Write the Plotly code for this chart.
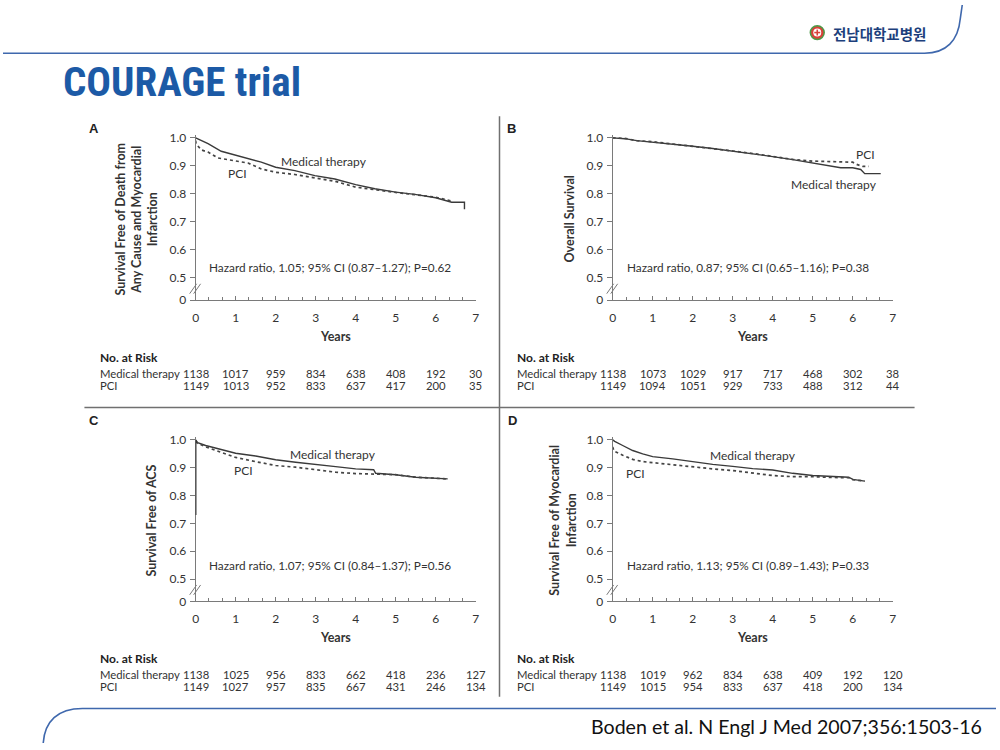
import plotly.graph_objects as go

W, H = 1000, 750


def px(x):
    return x / W


def py(y):
    return 1 - y / H


# ---------------- data ----------------
years = [0, 1, 2, 3, 4, 5, 6, 7]
Y_BREAK = 0.42
y_tickvals = [Y_BREAK, 0.5, 0.6, 0.7, 0.8, 0.9, 1.0]
y_ticktext = ["0", "0.5", "0.6", "0.7", "0.8", "0.9", "1.0"]

# Panel A: death from any cause and MI
a_mt_t = [0, 0.1, 0.31, 0.64, 0.83, 1.0, 1.31, 1.64, 2.0, 2.48, 2.98, 3.48, 4.0, 4.48, 5.0, 5.48, 6.0, 6.4, 6.72, 6.72]
a_mt_s = [1.0, 0.994, 0.979, 0.952, 0.945, 0.936, 0.927, 0.913, 0.895, 0.883, 0.865, 0.853, 0.833, 0.818, 0.806, 0.798, 0.786, 0.770, 0.770, 0.745]
a_pci_t = [0, 0.01, 0.14, 0.31, 0.56, 1.0, 1.31, 1.64, 2.0, 2.48, 2.98, 3.48, 4.0, 4.48, 5.0, 5.48, 6.0, 6.4]
a_pci_s = [0.99, 0.979, 0.957, 0.949, 0.928, 0.919, 0.910, 0.889, 0.877, 0.869, 0.856, 0.845, 0.824, 0.814, 0.805, 0.797, 0.788, 0.774]

# Panel B: overall survival
b_mt_t = [0, 0.3, 0.6, 1, 1.5, 2, 2.5, 3, 3.5, 4, 4.5, 5, 5.5, 5.7, 6, 6.2, 6.3, 6.7]
b_mt_s = [1.0, 0.997, 0.990, 0.985, 0.978, 0.970, 0.962, 0.953, 0.943, 0.933, 0.922, 0.910, 0.900, 0.893, 0.893, 0.887, 0.872, 0.872]
b_pci_t = [0, 0.3, 0.6, 1, 1.5, 2, 2.5, 3, 3.5, 4, 4.5, 5, 5.5, 6, 6.1, 6.25, 6.4]
b_pci_s = [1.0, 0.998, 0.990, 0.986, 0.978, 0.970, 0.963, 0.953, 0.944, 0.934, 0.923, 0.917, 0.915, 0.913, 0.905, 0.898, 0.898]

# Panel C: survival free of ACS
c_mt_t = [0, 0.05, 0.25, 0.5, 0.75, 1, 1.5, 2, 2.5, 3, 3.5, 4, 4.45, 4.5, 5, 5.5, 6, 6.3]
c_mt_s = [1.0, 0.990, 0.980, 0.970, 0.960, 0.952, 0.942, 0.929, 0.920, 0.911, 0.904, 0.896, 0.893, 0.880, 0.875, 0.866, 0.862, 0.860]
c_pci_t = [0, 0.05, 0.25, 0.5, 0.75, 1, 1.5, 2, 2.5, 3, 3.5, 4, 4.5, 5, 5.5, 6, 6.3]
c_pci_s = [0.995, 0.988, 0.975, 0.962, 0.948, 0.937, 0.922, 0.908, 0.902, 0.892, 0.884, 0.879, 0.877, 0.875, 0.866, 0.862, 0.860]

# Panel D: survival free of MI
d_mt_t = [0, 0.05, 0.25, 0.5, 0.75, 1, 1.5, 2, 2.5, 3, 3.5, 4, 4.5, 5, 5.5, 5.9, 6, 6.3]
d_mt_s = [1.0, 0.995, 0.980, 0.962, 0.950, 0.940, 0.932, 0.922, 0.912, 0.905, 0.897, 0.892, 0.880, 0.872, 0.868, 0.866, 0.858, 0.852]
d_pci_t = [0, 0.03, 0.25, 0.5, 0.75, 1, 1.5, 2, 2.5, 3, 3.5, 4, 4.5, 5, 5.5, 5.9, 6, 6.3]
d_pci_s = [0.975, 0.960, 0.945, 0.930, 0.922, 0.918, 0.910, 0.902, 0.896, 0.890, 0.882, 0.872, 0.868, 0.868, 0.865, 0.864, 0.857, 0.852]

# Numbers at risk
a_risk_mt = [1138, 1017, 959, 834, 638, 408, 192, 30]
a_risk_pci = [1149, 1013, 952, 833, 637, 417, 200, 35]
b_risk_mt = [1138, 1073, 1029, 917, 717, 468, 302, 38]
b_risk_pci = [1149, 1094, 1051, 929, 733, 488, 312, 44]
c_risk_mt = [1138, 1025, 956, 833, 662, 418, 236, 127]
c_risk_pci = [1149, 1027, 957, 835, 667, 431, 246, 134]
d_risk_mt = [1138, 1019, 962, 834, 638, 409, 192, 120]
d_risk_pci = [1149, 1015, 954, 833, 637, 418, 200, 134]

hazard_texts = [
    "Hazard ratio, 1.05; 95% CI (0.87\u20131.27); P=0.62",
    "Hazard ratio, 0.87; 95% CI (0.65\u20131.16); P=0.38",
    "Hazard ratio, 1.07; 95% CI (0.84\u20131.37); P=0.56",
    "Hazard ratio, 1.13; 95% CI (0.89\u20131.43); P=0.33",
]
y_titles = [
    "Survival Free of Death from<br>Any Cause and Myocardial<br>Infarction",
    "Overall Survival",
    "Survival Free of ACS",
    "Survival Free of Myocardial<br>Infarction",
]
letters = ["A", "B", "C", "D"]

# ---------------- layout geometry ----------------
FONT = "Lato, Noto Sans, sans-serif"
TXT = "#333333"
AX = "#7a7a7a"

panels = [
    dict(L=194, R=476, B=300, T=135, ax="", mt=(a_mt_t, a_mt_s), pci=(a_pci_t, a_pci_s),
         risk=(a_risk_mt, a_risk_pci), letter_xy=(92, 126), ytitle_xy=(134, 218),
         mt_lab=(3.2, 0.915), pci_lab=(1.05, 0.872), hr_x=0.28, hr_y=0.538, tbl_left=96),
    dict(L=614, R=896, B=300, T=135, ax="2", mt=(b_mt_t, b_mt_s), pci=(b_pci_t, b_pci_s),
         risk=(b_risk_mt, b_risk_pci), letter_xy=(512, 126), ytitle_xy=(571, 218),
         mt_lab=(5.53, 0.835), pci_lab=(6.33, 0.94), hr_x=0.3, hr_y=0.538, tbl_left=516),
    dict(L=194, R=476, B=606, T=442, ax="3", mt=(c_mt_t, c_mt_s), pci=(c_pci_t, c_pci_s),
         risk=(c_risk_mt, c_risk_pci), letter_xy=(92, 422), ytitle_xy=(150, 524),
         mt_lab=(3.43, 0.947), pci_lab=(1.19, 0.89), hr_x=0.28, hr_y=0.548, tbl_left=96),
    dict(L=614, R=896, B=606, T=442, ax="4", mt=(d_mt_t, d_mt_s), pci=(d_pci_t, d_pci_s),
         risk=(d_risk_mt, d_risk_pci), letter_xy=(513, 422), ytitle_xy=(564, 524),
         mt_lab=(3.5, 0.944), pci_lab=(0.57, 0.88), hr_x=0.3, hr_y=0.548, tbl_left=516),
]

fig = go.Figure()
annotations = []
shapes = []
layout = {}

Y_TOP = 1.01
for i, p in enumerate(panels):
    unit = (p["B"] - p["T"]) / (1.0 - Y_BREAK)
    top_px = p["T"] - (Y_TOP - 1.0) * unit
    xa = "xaxis" + p["ax"]
    ya = "yaxis" + p["ax"]
    xr = "x" + p["ax"]
    yr = "y" + p["ax"]
    layout[xa] = dict(
        domain=[px(p["L"]), px(p["R"])], range=[0, 7], anchor=yr,
        tickmode="array", tickvals=years, ticktext=[str(v) for v in years],
        ticks="inside", ticklen=4, tickcolor=AX, tickwidth=1,
        minor=dict(ticks="inside", tickmode="linear", tick0=0, dtick=1 / 3, ticklen=3,
                   tickcolor=AX, showgrid=False),
        showline=True, linecolor=AX, linewidth=1, showgrid=False, zeroline=False,
        tickfont=dict(family=FONT, size=12, color=TXT), ticklabelstandoff=6,
        fixedrange=True,
    )
    layout[ya] = dict(
        domain=[py(p["B"]), py(top_px)], range=[Y_BREAK, Y_TOP], anchor=xr,
        tickmode="array", tickvals=y_tickvals, ticktext=y_ticktext,
        ticks="outside", ticklen=5, tickcolor=AX, tickwidth=1,
        showline=True, linecolor=AX, linewidth=1, showgrid=False, zeroline=False,
        tickfont=dict(family=FONT, size=12, color=TXT), ticklabelstandoff=1,
        fixedrange=True,
    )
    # curves
    fig.add_trace(go.Scatter(x=p["mt"][0], y=p["mt"][1], xaxis=xr, yaxis=yr, mode="lines",
                             line=dict(shape="linear", color="#3a3a3a", width=1.4),
                             name="Medical therapy", showlegend=False))
    fig.add_trace(go.Scatter(x=p["pci"][0], y=p["pci"][1], xaxis=xr, yaxis=yr, mode="lines",
                             line=dict(shape="linear", color="#444444", width=1.7, dash="dot"),
                             name="PCI", showlegend=False))
    # axis break marks
    yb = p["T"] + (1.0 - 0.461) * unit
    for off in (-2.0, 2.0):
        shapes.append(dict(type="line", xref="paper", yref="paper",
                           x0=px(p["L"] - 4 + off), y0=py(yb + 5),
                           x1=px(p["L"] + 3 + off), y1=py(yb - 5),
                           line=dict(color=AX, width=1)))
    # letter
    annotations.append(dict(text="<b>%s</b>" % letters[i], xref="paper", yref="paper",
                            x=px(p["letter_xy"][0]), y=py(p["letter_xy"][1]),
                            xanchor="center", yanchor="middle", showarrow=False,
                            font=dict(family="Liberation Sans, Arial", size=13, color="#222")))
    # y title
    annotations.append(dict(text="<b>%s</b>" % y_titles[i], xref="paper", yref="paper",
                            x=px(p["ytitle_xy"][0]), y=py(p["ytitle_xy"][1]),
                            xanchor="center", yanchor="middle", showarrow=False, textangle=-90,
                            font=dict(family=FONT, size=12.5, color=TXT)))
    # Years
    annotations.append(dict(text="<b>Years</b>", xref="paper", yref="paper",
                            x=px((p["L"] + p["R"]) / 2), y=py(p["B"] + 37),
                            xanchor="center", yanchor="middle", showarrow=False,
                            font=dict(family=FONT, size=12.5, color=TXT)))
    # curve labels
    annotations.append(dict(text="Medical therapy", xref=xr, yref=yr,
                            x=p["mt_lab"][0], y=p["mt_lab"][1], showarrow=False,
                            xanchor="center", yanchor="middle",
                            font=dict(family=FONT, size=12, color=TXT)))
    annotations.append(dict(text="PCI", xref=xr, yref=yr,
                            x=p["pci_lab"][0], y=p["pci_lab"][1], showarrow=False,
                            xanchor="center", yanchor="middle",
                            font=dict(family=FONT, size=12, color=TXT)))
    # hazard ratio
    annotations.append(dict(text=hazard_texts[i], xref=xr, yref=yr,
                            x=p["hr_x"], y=p["hr_y"], showarrow=False,
                            xanchor="left", yanchor="middle",
                            font=dict(family=FONT, size=11.8, color=TXT)))
    # number at risk table
    base = p["B"] + 58
    annotations.append(dict(text="<b>No. at Risk</b>", xref="paper", yref="paper",
                            x=px(p["tbl_left"]), y=py(base), xanchor="left", yanchor="middle",
                            showarrow=False, font=dict(family=FONT, size=12, color="#222")))
    for row, (lab, vals) in enumerate((("Medical therapy", p["risk"][0]), ("PCI", p["risk"][1]))):
        yy = py(base + 16 + 13 * row)
        annotations.append(dict(text=lab, xref="paper", yref="paper",
                                x=px(p["tbl_left"]), y=yy, xanchor="left", yanchor="middle",
                                showarrow=False, font=dict(family=FONT, size=11.3, color=TXT)))
        for yv, v in zip(years, vals):
            annotations.append(dict(text=str(v), xref=xr, yref="paper", x=yv, y=yy,
                                    xanchor="center", yanchor="middle", showarrow=False,
                                    font=dict(family=FONT, size=11.3, color=TXT)))

# darker segment of the y axis seen in panel C
shapes.append(dict(type="line", xref="x3", yref="y3", x0=0, x1=0, y0=0.73, y1=1.0,
                   line=dict(color="#222222", width=1.6)))

# panel dividers
shapes.append(dict(type="line", xref="paper", yref="paper", x0=px(500), x1=px(500),
                   y0=py(113), y1=py(703), line=dict(color="#707070", width=1.5)))
shapes.append(dict(type="line", xref="paper", yref="paper", x0=px(82), x1=px(918),
                   y0=py(409), y1=py(409), line=dict(color="#707070", width=1.5)))


def P(x, y):
    return "%.4f,%.4f" % (px(x), py(y))


# slide frame: header line with rounded corner
shapes.append(dict(type="path", xref="paper", yref="paper",
                   path="M " + P(0, 49) + " L " + P(928, 49) + " C " + P(950, 49) + " " + P(962, 36)
                   + " " + P(964, 14) + " L " + P(966, 0),
                   line=dict(color="#3f68ad", width=1.6)))
# footer line with rounded corner
shapes.append(dict(type="path", xref="paper", yref="paper",
                   path="M " + P(40.5, 750) + " C " + P(42, 728) + " " + P(55, 715) + " " + P(80, 715)
                   + " L " + P(1000, 715),
                   line=dict(color="#3f68ad", width=1.6)))

# logo icon
shapes.append(dict(type="circle", xref="paper", yref="paper", x0=px(813), x1=px(827),
                   y0=py(35), y1=py(21), fillcolor="#d9413a", line=dict(color="#4c9a48", width=1.5)))
shapes.append(dict(type="circle", xref="paper", yref="paper", x0=px(816), x1=px(824),
                   y0=py(32), y1=py(24), fillcolor="white", line=dict(width=0)))
shapes.append(dict(type="rect", xref="paper", yref="paper", x0=px(819.2), x1=px(820.8),
                   y0=py(31), y1=py(25), fillcolor="#d9413a", line=dict(width=0)))
shapes.append(dict(type="rect", xref="paper", yref="paper", x0=px(817), x1=px(823),
                   y0=py(28.8), y1=py(27.2), fillcolor="#d9413a", line=dict(width=0)))

annotations.append(dict(text="<b>전남대학교병원</b>", xref="paper", yref="paper",
                        x=px(834), y=py(28.5), xanchor="left", yanchor="middle", showarrow=False,
                        font=dict(family="Noto Sans CJK KR", size=14.5, color="#1d3f7c")))

# title
annotations.append(dict(text="<b>COURAGE trial</b>", xref="paper", yref="paper",
                        x=px(58), y=py(78), xanchor="left", yanchor="middle", showarrow=False,
                        font=dict(family="Liberation Sans Narrow, Roboto Condensed, Liberation Sans", size=41,
                                  color="#1c5aa6")))
# citation
annotations.append(dict(text="Boden et al. N Engl J Med 2007;356:1503-16", xref="paper", yref="paper",
                        x=px(988), y=py(733), xanchor="right", yanchor="middle", showarrow=False,
                        font=dict(family="Lato, Liberation Sans", size=19.6, color="#111111")))

fig.update_layout(
    width=W, height=H, margin=dict(l=0, r=0, t=0, b=0),
    paper_bgcolor="white", plot_bgcolor="white",
    showlegend=False, annotations=annotations, shapes=shapes, **layout,
)

fig.write_html("out.html", config={"displayModeBar": False},
               post_script="document.body.style.margin='0';document.body.style.overflow='hidden';")
